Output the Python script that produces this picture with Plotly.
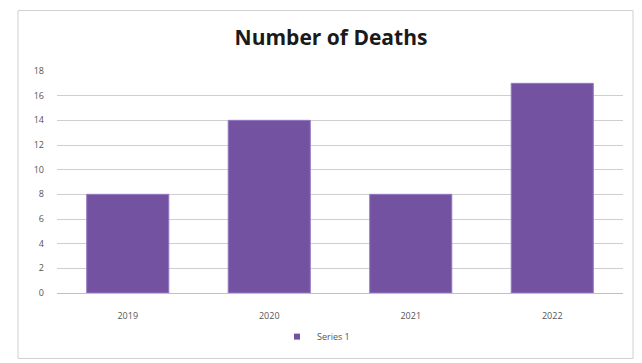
import plotly.graph_objects as go

years = ["2019", "2020", "2021", "2022"]
deaths = [8, 14, 8, 17]
y_ticks = [0, 2, 4, 6, 8, 10, 12, 14, 16, 18]
series_name = "Series 1"

W, H = 642, 363
L, R, T, B = 57, 19, 71, 68
pw, ph = W - L - R, H - T - B

def px_x(x):
    return (x - L) / pw

def px_y(y):
    return (H - B - y) / ph

BAR_COLOR = "#7352a2"

fig = go.Figure()
fig.add_trace(go.Bar(
    x=years, y=deaths, name=series_name, showlegend=False,
    marker=dict(color=BAR_COLOR, line=dict(color="#9478c2", width=1)),
    width=0.58,
))
# legend-only entry with a small square key
fig.add_trace(go.Scatter(
    x=[None], y=[None], mode="markers", name=series_name,
    marker=dict(symbol="square", size=6, color=BAR_COLOR),
))

fig.update_layout(
    width=W, height=H,
    margin=dict(l=L, r=R, t=T, b=B),
    paper_bgcolor="white", plot_bgcolor="white",
    title=dict(text="<b>Number of Deaths</b>", x=331 / W, xanchor="center",
               y=1 - 38 / H, yanchor="middle", yref="container",
               font=dict(family="Open Sans, Lato, sans-serif", size=21, color="#1a1a1a")),
    showlegend=True,
    legend=dict(orientation="h", x=px_x(316), xanchor="center", y=px_y(339), yanchor="middle",
                font=dict(family="Open Sans, sans-serif", size=9, color="#555555"),
                itemwidth=30, bgcolor="rgba(0,0,0,0)"),
    xaxis=dict(showgrid=False, showline=True, linecolor="#c0c0c0", linewidth=1,
               tickfont=dict(family="Open Sans, sans-serif", size=9, color="#555555"),
               ticks="", ticklabelstandoff=14),
    yaxis=dict(range=[0, 18], tickvals=y_ticks, showgrid=True, gridcolor="#cfcfcf",
               gridwidth=1, zeroline=False, showline=False,
               tickfont=dict(family="Open Sans, sans-serif", size=9, color="#555555"),
               ticks="", ticklabelstandoff=12),
    bargap=0.42,
    shapes=[dict(type="rect", xref="paper", yref="paper",
                 x0=px_x(18), x1=px_x(633), y0=px_y(361), y1=px_y(10),
                 line=dict(color="#d0d0d0", width=1), fillcolor="rgba(0,0,0,0)",
                 layer="below")],
)

fig.write_html("out.html")
